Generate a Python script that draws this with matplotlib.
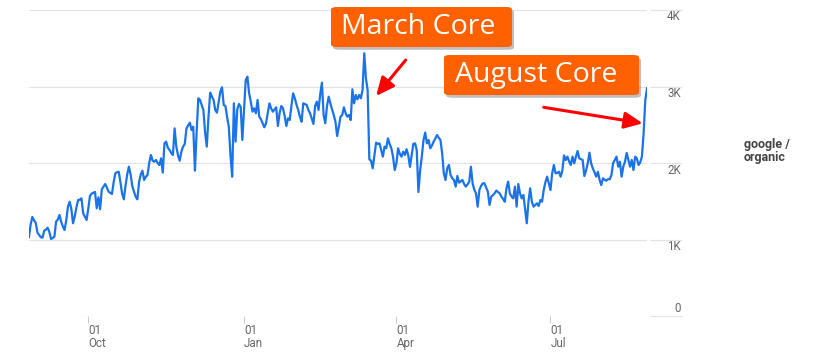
import matplotlib
matplotlib.use("Agg")
import matplotlib.pyplot as plt
import matplotlib.patheffects as pe
import matplotlib.transforms as mtransforms
from matplotlib.patches import FancyBboxPatch
import pandas as pd

# daily organic sessions (2018-08-27 .. 2019-08-28)
START = "2018-08-27"
SESSIONS = [
    1033, 1200, 1294, 1250, 1216, 1089, 1060, 1030, 1024, 1115,
    1130, 1154, 1100, 1007, 1020, 1037, 1233, 1260, 1320, 1233,
    1170, 1124, 1250, 1429, 1494, 1400, 1212, 1300, 1420, 1516,
    1520, 1538, 1342, 1300, 1255, 1400, 1569, 1600, 1610, 1621,
    1408, 1551, 1395, 1656, 1690, 1725, 1680, 1625, 1610, 1595,
    1750, 1865, 1880, 1886, 1750, 1600, 1525, 1700, 1850, 1952,
    1850, 1700, 1625, 1560, 1525, 1750, 1850, 1899, 1778, 1820,
    1843, 2000, 2105, 2030, 2017, 2039, 2000, 1974, 2061, 1874,
    2257, 2279, 2200, 2170, 2130, 2105, 2453, 2214, 2100, 2030,
    2150, 2214, 2248, 2453, 2490, 2527, 2431, 2475, 1899, 2400,
    2846, 2824, 2760, 2693, 2400, 2214, 2600, 2920, 2870, 2824,
    2693, 2658, 2800, 2933, 2990, 2758, 2745, 2600, 2475, 2100,
    1821, 2780, 2279, 2700, 2771, 2736, 2301, 2700, 3085, 3128,
    2911, 2800, 2671, 2715, 2650, 2824, 2606, 2571, 2520, 2467,
    2519, 2650, 2780, 2715, 2671, 2700, 2728, 2484, 2650, 2745,
    2715, 2614, 2484, 2584, 2562, 2750, 2911, 2846, 2760, 2693,
    2606, 2540, 2780, 2770, 2758, 2693, 2650, 2580, 2510, 2745,
    2802, 2693, 2900, 3050, 2627, 2519, 2745, 2867, 2780, 2700,
    2627, 2540, 2353, 2475, 2606, 2627, 2728, 2650, 2606, 2627,
    2562, 2963, 2780, 2889, 2833, 2889, 2846, 2954, 3434, 3107,
    2954, 2048, 2030, 1930, 2100, 2266, 2248, 2257, 2170, 2083,
    2214, 2192, 2322, 2250, 2192, 2083, 1908, 1996, 2192, 2120,
    2083, 2148, 2105, 2180, 2100, 1950, 2100, 2250, 2257, 2170,
    1621, 1900, 2083, 2300, 2397, 2257, 2301, 2192, 2230, 2279,
    2320, 2366, 2330, 2301, 2131, 1865, 1778, 1930, 1974, 1843,
    1800, 1778, 1691, 1830, 1743, 1760, 1778, 1725, 1691, 1720,
    1756, 1952, 1734, 1650, 1603, 1429, 1647, 1700, 1734, 1734,
    1680, 1625, 1451, 1560, 1580, 1603, 1640, 1620, 1603, 1560,
    1530, 1494, 1669, 1756, 1603, 1560, 1538, 1691, 1429, 1725,
    1603, 1538, 1582, 1400, 1212, 1500, 1669, 1494, 1429, 1450,
    1473, 1438, 1516, 1494, 1647, 1750, 1821, 1734, 1647, 1865,
    1974, 1865, 1870, 1886, 1821, 1900, 2100, 2039, 2083, 2020,
    1974, 2083, 1996, 2080, 2157, 2061, 2050, 2039, 1830, 1900,
    1996, 2135, 1996, 1930, 1880, 1821, 1886, 1778, 1712, 1800,
    1780, 1769, 1790, 1787, 1843, 2000, 2039, 2083, 1952, 2017,
    1821, 1952, 2017, 2131, 2039, 1952, 2039, 1908, 2083, 2061,
    1974, 2009, 2083, 2388, 2824, 2976,
]
MONTH_TICKS = ["2018-10-01", "2019-01-01", "2019-04-01", "2019-07-01"]
MONTH_LABELS = ["01\nOct", "01\nJan", "01\nApr", "01\nJul"]
Y_TICKS = [0, 1000, 2000, 3000, 4000]
Y_LABELS = ["0", "1K", "2K", "3K", "4K"]
SERIES_NAME = "google /\norganic"

# callouts: label, box in figure pixels (left, top, right, bottom), text anchor
NOTES = [
    ("March Core", (331, 7, 512, 47), (418, 34)),
    ("August Core", (444, 55, 639, 95), (536, 82)),
]
# arrows in (day offset, sessions): tail -> head
ARROWS = [
    ((222.5, 3346), (205.0, 2876)),
    ((304.0, 2728), (362.5, 2519)),
]

LINE = "#1a73e8"
GRID = "#e3e3e3"
TICK_TXT = "#666666"
ORANGE = "#ff6000"
RED = "#ff0000"

W, H = 825, 361
fig = plt.figure(figsize=(W / 100, H / 100), dpi=100)
ax = fig.add_axes([29 / W, 1 - 316 / H, 618 / W, 306 / H])

dates = pd.date_range(START, periods=len(SESSIONS), freq="D")
ax.plot(dates, SESSIONS, color=LINE, lw=1.6, solid_joinstyle="round", zorder=3)
ax.set_xlim(dates[0], dates[-1])
ax.set_ylim(0, 4000)

for s in ax.spines.values():
    s.set_visible(False)

# horizontal grid + short stubs under the right-hand labels
trans = mtransforms.blended_transform_factory(ax.transAxes, ax.transData)
for v, lab in zip(Y_TICKS, Y_LABELS):
    ax.axhline(v, color=GRID, lw=0.9, zorder=1)
    ax.plot([1.0065, 1.055], [v, v], transform=trans, color=GRID, lw=0.9,
            clip_on=False)
    dy = 8 if v == 0 else -7
    ax.annotate(lab, xy=(1.055, v), xycoords=trans, xytext=(0, dy),
                textcoords="offset pixels", ha="right", va="center",
                fontsize=8.3, color=TICK_TXT, family="Roboto")
ax.set_yticks([])

ax.set_xticks(pd.to_datetime(MONTH_TICKS))
ax.set_xticklabels(MONTH_LABELS, ha="left", fontsize=8.4, color=TICK_TXT,
                   family="Roboto", linespacing=0.95)
ax.tick_params(axis="x", length=5, width=0.75, color="#cccccc", pad=1)

fig.text(744 / W, 1 - 151 / H, SERIES_NAME, ha="left", va="center",
         fontsize=9, fontweight="bold", color="#444444", family="Roboto",
         linespacing=1.0)

# orange callout boxes
shadow = [pe.SimplePatchShadow(offset=(1.5, -2), shadow_rgbFace="#000000",
                               alpha=0.25), pe.Normal()]
for label, (x0, y0, x1, y1), (tx, ty) in NOTES:
    box = FancyBboxPatch((x0 / W, 1 - y1 / H), (x1 - x0) / W, (y1 - y0) / H,
                         boxstyle="round,pad=0,rounding_size=0.007",
                         transform=fig.transFigure, facecolor=ORANGE,
                         edgecolor="none", path_effects=shadow, zorder=5)
    fig.add_artist(box)
    fig.text(tx / W, 1 - ty / H, label, ha="center", va="baseline",
             fontsize=20.5, color="white", family="Open Sans", zorder=6)

for (d0, v0), (d1, v1) in ARROWS:
    t0 = dates[0] + pd.Timedelta(days=d0)
    t1 = dates[0] + pd.Timedelta(days=d1)
    ax.annotate("", xy=(t1, v1), xytext=(t0, v0),
                arrowprops=dict(arrowstyle="-|>,head_length=0.55,head_width=0.25",
                                color=RED, lw=2.2, mutation_scale=20,
                                shrinkA=0, shrinkB=0),
                annotation_clip=False, zorder=7)

fig.savefig("out.png", dpi=100)
